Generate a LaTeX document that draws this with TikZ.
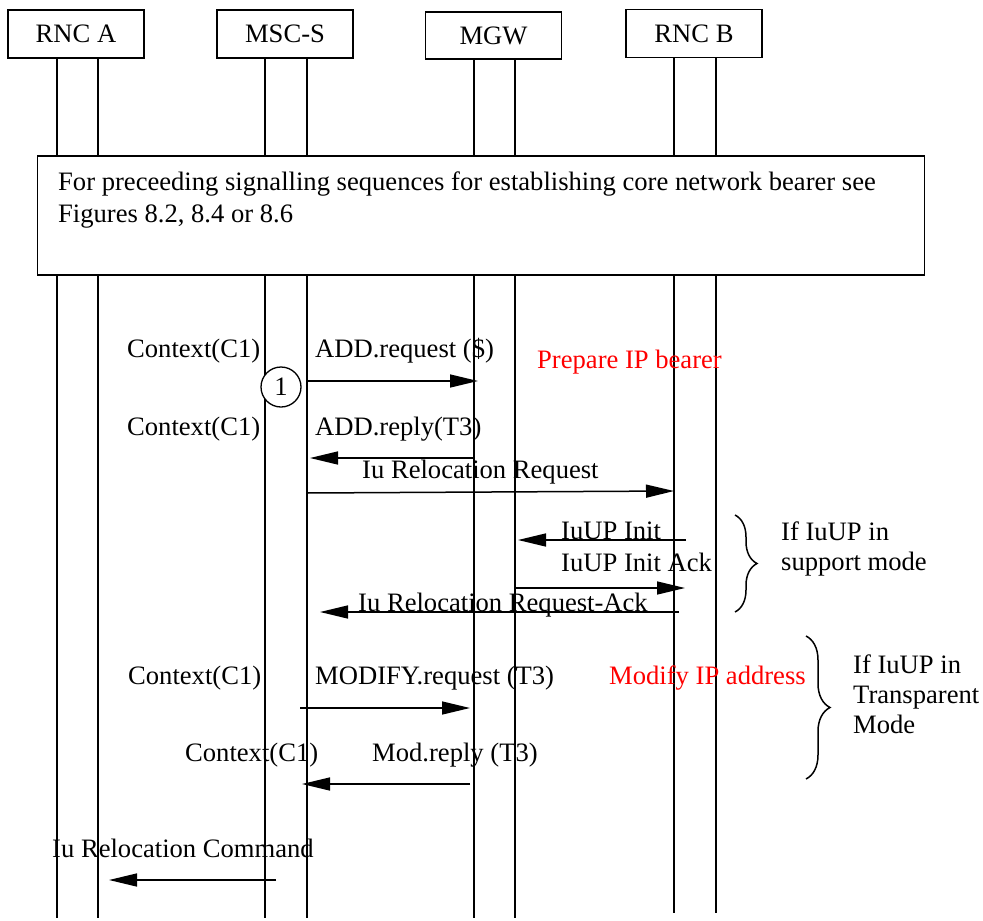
\documentclass[tikz,border=0pt]{standalone}
\usepackage{fontspec}
\setmainfont{Liberation Serif}
\usetikzlibrary{arrows.meta,decorations.pathreplacing}
\begin{document}
\begin{tikzpicture}[x=1pt,y=-1pt,
  font=\fontsize{26.6}{31}\selectfont,
  hdr/.style={draw,line width=1.3pt,minimum width=136pt,minimum height=48pt,inner sep=0pt,fill=white},
  life/.style={line width=1.3pt},
  msg/.style={line width=1.5pt,-{Triangle[length=28pt,width=13pt]}},
  lbl/.style={anchor=base west,inner sep=0pt},
  redlbl/.style={anchor=base west,inner sep=0pt,text=red},
  brc/.style={line width=1.5pt,decorate,decoration={brace,amplitude=22pt}}]
\useasboundingbox (0,0) rectangle (983,921);
\fill[white] (0,0) rectangle (983,921);

% lifelines
\foreach \n/\x/\t/\b in {a1/57/58/918,a2/98/58/918,m1/265/58/918,m2/307/58/918,g1/474/59/918,g2/515/59/918,b1/674/57/913,b2/716/57/913}{
  \coordinate (\n t) at (\x,\t);
  \coordinate (\n b) at (\x,\b);
  \draw[life] (\n t) -- (\n b);
}

% headers
\node[hdr] (rnca) at (76,34) {RNC A};
\node[hdr] (msc) at (285,34) {MSC-S};
\node[hdr,minimum height=47pt] (mgw) at (493.5,35.5) {MGW};
\node[hdr] (rncb) at (694,33.5) {RNC B};

% big box
\node[draw,line width=1.3pt,fill=white,minimum width=887pt,minimum height=119pt,inner sep=0pt] (bigbox) at (481,215.5) {};
\node[lbl] (t1) at (58,190) {For preceeding signalling sequences for establishing core network bearer see};
\node[lbl] (t2) at (58,222) {Figures 8.2, 8.4 or 8.6};

% labels
\node[lbl] (c1a) at (127,357) {Context(C1)};
\node[lbl] (addreq) at (315,357) {ADD.request (\$)};
\node[redlbl] (prep) at (537,368) {Prepare IP bearer};
\node[draw,circle,line width=1.3pt,minimum size=40pt,inner sep=0pt,fill=white] (one) at (281,387) {1};
\node[lbl] (c1b) at (127,435) {Context(C1)};
\node[lbl] (addrep) at (315,435) {ADD.reply(T3)};
\node[lbl] (iurr) at (362,478) {Iu Relocation Request};
\node[lbl] (iuupi) at (561,539) {IuUP Init};
\node[lbl] (iuupa) at (561,571) {IuUP Init Ack};
\node[lbl] (iurra) at (358,611) {Iu Relocation Request-Ack};
\node[lbl] (if1a) at (781,540) {If IuUP in};
\node[lbl] (if1b) at (781,570) {support mode};
\node[lbl] (c1c) at (128,684) {Context(C1)};
\node[lbl] (modreq) at (315,684) {MODIFY.request (T3)};
\node[redlbl] (modip) at (609,684) {Modify IP address};
\node[lbl] (if2a) at (853,673) {If IuUP in};
\node[lbl] (if2b) at (853,703) {Transparent};
\node[lbl] (if2c) at (853,733) {Mode};
\node[lbl] (c1d) at (185,761) {Context(C1)};
\node[lbl] (modrep) at (372,761) {Mod.reply (T3)};
\node[lbl] (iurc) at (52,857) {Iu Relocation Command};

% message end points
\coordinate (p1s) at (307,381);  \coordinate (p1e) at (478,381);
\coordinate (p2s) at (474,458);  \coordinate (p2e) at (310,458);
\coordinate (p3s) at (307,493);  \coordinate (p3e) at (674,491);
\coordinate (p4s) at (686,540);  \coordinate (p4e) at (518,540);
\coordinate (p5s) at (515,588);  \coordinate (p5e) at (685,588);
\coordinate (p6s) at (679,612);  \coordinate (p6e) at (320,612);
\coordinate (p7s) at (300,708);  \coordinate (p7e) at (470,708);
\coordinate (p8s) at (470,784);  \coordinate (p8e) at (302,784);
\coordinate (p9s) at (276,880);  \coordinate (p9e) at (109,880);

\draw[msg] (p1s) -- (p1e);
\draw[msg] (p2s) -- (p2e);
\draw[msg] (p3s) -- (p3e);
\draw[msg] (p4s) -- (p4e);
\draw[msg] (p5s) -- (p5e);
\draw[msg] (p6s) -- (p6e);
\draw[msg] (p7s) -- (p7e);
\draw[msg] (p8s) -- (p8e);
\draw[msg] (p9s) -- (p9e);

% braces
\coordinate (br1t) at (735,515); \coordinate (br1b) at (735,612);
\coordinate (br2t) at (806,636); \coordinate (br2b) at (806,779);
\draw[brc] (br1t) -- (br1b);
\draw[brc,decoration={brace,amplitude=24pt}] (br2t) -- (br2b);
\end{tikzpicture}
\end{document}
